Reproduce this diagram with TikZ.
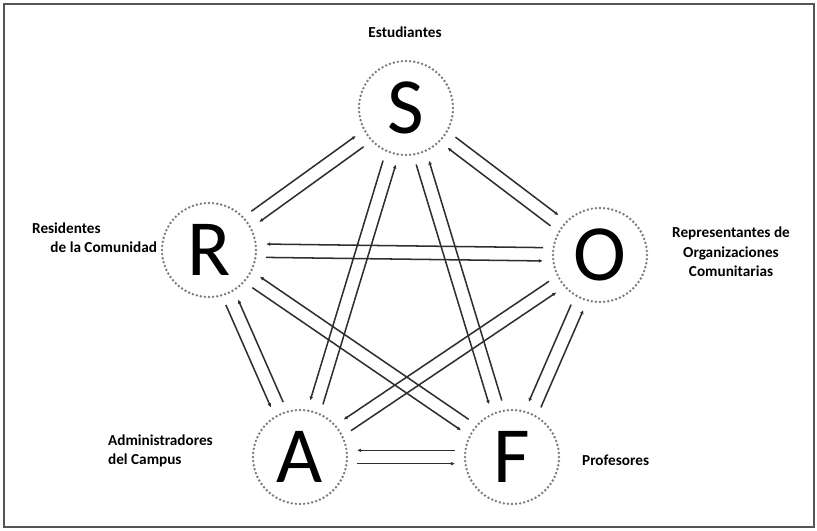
\documentclass[tikz,border=0pt]{standalone}
\usepackage{fontspec}
\setmainfont{Carlito}
\usetikzlibrary{calc,arrows.meta}
\definecolor{framegray}{HTML}{555555}
\definecolor{dotgray}{HTML}{7A7A7A}
\definecolor{arrowgray}{HTML}{2E2E2E}

% two opposite arrows between two stakeholders, #3 = side offset
\newcommand{\biflow}[3]{%
  \draw[flow] ($(#1)!1.71cm!(#2)!#3!90:(#2)$) -- ($(#2)!1.71cm!(#1)!#3!-90:(#1)$);
  \draw[flow] ($(#2)!1.71cm!(#1)!#3!90:(#1)$) -- ($(#1)!1.71cm!(#2)!#3!-90:(#2)$);}

\begin{document}
\begin{tikzpicture}[x=0.03cm, y=-0.03cm,
    hub/.style={circle, draw=dotgray, line width=2.3pt, line cap=round,
      dash pattern=on 0pt off 3.5pt, minimum size=2.82cm, inner sep=0pt,
      font=\fontsize{68}{72}\selectfont},
    tag/.style={font=\fontsize{13}{16.5}\selectfont\bfseries},
    flow/.style={draw=arrowgray, line width=1.3pt, -{Latex[length=3.5pt,width=3.2pt]}}]
  \useasboundingbox (0,0) rectangle (817,530);
  \draw[framegray, line width=1.3pt] (4,4) rectangle (814,527);

  % stakeholders
  \node[hub] (S) at (406,108) {S};
  \node[hub] (R) at (209,250) {R};
  \node[hub] (O) at (600,255) {O};
  \node[hub] (A) at (300,457) {A};
  \node[hub] (F) at (512,457) {F};

  % labels
  \node[tag] (lS) at (405,32) {Estudiantes};
  \node[tag, align=left, anchor=west] (lR) at (28,238) {Residentes\\\hspace*{0.55cm}de la Comunidad};
  \node[tag, align=center] (lO) at (731,252) {Representantes de\\Organizaciones\\Comunitarias};
  \node[tag, align=left, anchor=west] (lA) at (104,451) {Administradores\\del Campus};
  \node[tag, anchor=west] (lF) at (578,460) {Profesores};

  % arrows
  \biflow{S}{O}{0.2cm}
  \biflow{R}{S}{0.2cm}
  \biflow{O}{F}{-0.2cm}
  \biflow{R}{A}{-0.2cm}
  \biflow{A}{F}{-0.2cm}
  \biflow{R}{O}{-0.2cm}
  \biflow{S}{A}{-0.2cm}
  \biflow{S}{F}{-0.2cm}
  \biflow{R}{F}{-0.2cm}
  \biflow{O}{A}{-0.2cm}
\end{tikzpicture}
\end{document}
